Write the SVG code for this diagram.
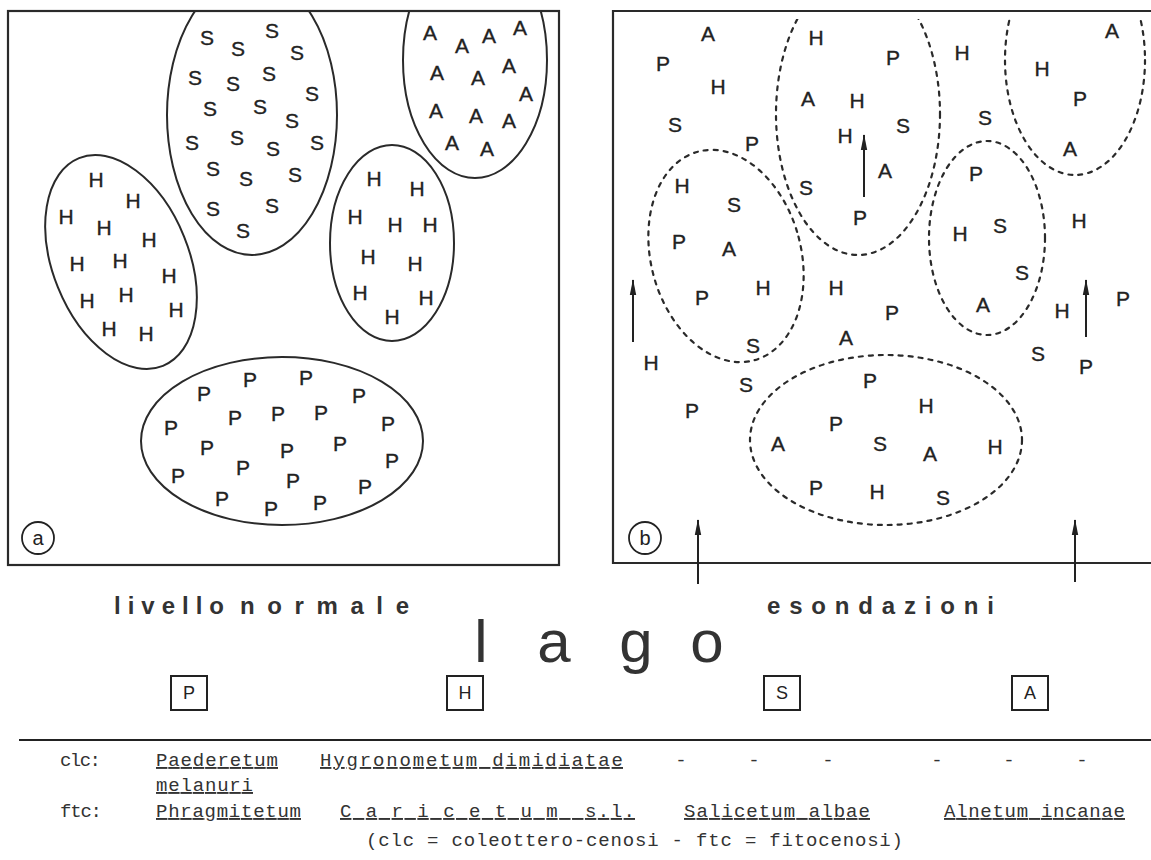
<svg xmlns="http://www.w3.org/2000/svg" width="1151" height="860" viewBox="0 0 1151 860">
<style>
.frame{fill:none;stroke:#2a2a2a;stroke-width:2.2}
.solid{fill:none;stroke:#2a2a2a;stroke-width:2}
.dash{fill:none;stroke:#2a2a2a;stroke-width:2.2;stroke-dasharray:4 6;stroke-linecap:round}
.L{font-family:"Liberation Sans",Arial,sans-serif;font-size:21px;fill:#222;stroke:#222;stroke-width:0.35;text-anchor:middle}
.arr{stroke:#222;stroke-width:2;fill:none;marker-end:url(#ah)}
.lbl{font-family:"Liberation Sans",Arial,sans-serif;font-size:24px;font-weight:bold;fill:#333}
.lago{font-family:"Liberation Sans",Arial,sans-serif;font-size:60px;fill:#333;text-anchor:middle}
.tw{font-family:"Liberation Mono","Courier New",monospace;font-size:19px;fill:#333}
.ul{text-decoration:underline}
.box{fill:none;stroke:#222;stroke-width:2}
.boxt{font-family:"Liberation Sans",Arial,sans-serif;font-size:18px;fill:#222;text-anchor:middle}
.circ{fill:none;stroke:#222;stroke-width:1.8}
.ct{font-family:"Liberation Sans",Arial,sans-serif;font-size:20px;fill:#222;text-anchor:middle}
</style>
<defs>
<marker id="ah" markerUnits="userSpaceOnUse" markerWidth="16" markerHeight="8" refX="15" refY="4" orient="auto" viewBox="0 0 16 8">
<path d="M0,0.8 L16,4 L0,7.2 z" fill="#222"/>
</marker>
<clipPath id="clipA"><rect x="8" y="11" width="551" height="554"/></clipPath>
<clipPath id="clipB"><rect x="613" y="19" width="538" height="544"/></clipPath>
</defs>
<rect width="1151" height="860" fill="#fff"/>

<g id="panel-a">
<rect class="frame" x="8" y="11" width="551" height="554"/>
<g id="a-S">
<ellipse class="solid" cx="252" cy="115" rx="85" ry="140" clip-path="url(#clipA)"/>
<text class="L" x="207" y="45">S</text><text class="L" x="238" y="56">S</text><text class="L" x="272" y="38">S</text><text class="L" x="297" y="60">S</text>
<text class="L" x="195" y="85">S</text><text class="L" x="233" y="91">S</text><text class="L" x="269" y="81">S</text><text class="L" x="312" y="101">S</text>
<text class="L" x="210" y="116">S</text><text class="L" x="260" y="114">S</text><text class="L" x="292" y="128">S</text>
<text class="L" x="192" y="150">S</text><text class="L" x="237" y="145">S</text><text class="L" x="273" y="156">S</text><text class="L" x="317" y="150">S</text>
<text class="L" x="213" y="176">S</text><text class="L" x="246" y="186">S</text><text class="L" x="295" y="182">S</text>
<text class="L" x="213" y="216">S</text><text class="L" x="272" y="213">S</text><text class="L" x="243" y="238">S</text>
</g>
<g id="a-A">
<ellipse class="solid" cx="475" cy="60" rx="72" ry="118" clip-path="url(#clipA)"/>
<text class="L" x="430" y="40">A</text><text class="L" x="462" y="53">A</text><text class="L" x="489" y="43">A</text><text class="L" x="520" y="35">A</text>
<text class="L" x="437" y="80">A</text><text class="L" x="478" y="85">A</text><text class="L" x="509" y="73">A</text><text class="L" x="526" y="101">A</text>
<text class="L" x="436" y="118">A</text><text class="L" x="476" y="123">A</text><text class="L" x="509" y="128">A</text>
<text class="L" x="452" y="150">A</text><text class="L" x="487" y="156">A</text>
</g>
<g id="a-H-right">
<ellipse class="solid" cx="392" cy="243" rx="62" ry="98"/>
<text class="L" x="374" y="186">H</text><text class="L" x="417" y="196">H</text>
<text class="L" x="355" y="224">H</text><text class="L" x="395" y="232">H</text><text class="L" x="430" y="232">H</text>
<text class="L" x="368" y="264">H</text><text class="L" x="415" y="271">H</text>
<text class="L" x="360" y="300">H</text><text class="L" x="426" y="305">H</text><text class="L" x="392" y="324">H</text>
</g>
<g id="a-H-left">
<ellipse class="solid" cx="121" cy="262" rx="68" ry="112" transform="rotate(-22 121 262)"/>
<text class="L" x="96" y="187">H</text><text class="L" x="133" y="208">H</text>
<text class="L" x="66" y="224">H</text><text class="L" x="104" y="235">H</text><text class="L" x="149" y="247">H</text>
<text class="L" x="77" y="271">H</text><text class="L" x="120" y="268">H</text><text class="L" x="169" y="283">H</text>
<text class="L" x="87" y="308">H</text><text class="L" x="126" y="302">H</text><text class="L" x="176" y="317">H</text>
<text class="L" x="109" y="336">H</text><text class="L" x="146" y="341">H</text>
</g>
<g id="a-P">
<ellipse class="solid" cx="282" cy="441" rx="141" ry="84"/>
<text class="L" x="204" y="401">P</text><text class="L" x="250" y="387">P</text><text class="L" x="306" y="385">P</text><text class="L" x="359" y="403">P</text>
<text class="L" x="171" y="435">P</text><text class="L" x="235" y="425">P</text><text class="L" x="278" y="421">P</text><text class="L" x="321" y="420">P</text><text class="L" x="388" y="431">P</text>
<text class="L" x="207" y="455">P</text><text class="L" x="287" y="458">P</text><text class="L" x="340" y="451">P</text><text class="L" x="392" y="468">P</text>
<text class="L" x="178" y="483">P</text><text class="L" x="243" y="475">P</text><text class="L" x="293" y="488">P</text><text class="L" x="365" y="494">P</text>
<text class="L" x="222" y="506">P</text><text class="L" x="271" y="516">P</text><text class="L" x="320" y="510">P</text>
</g>
<g id="label-a">
<circle class="circ" cx="38" cy="538" r="16"/>
<text class="ct" x="38" y="545">a</text>
</g>
</g>

<g id="panel-b">
<path class="frame" d="M1151,11 H613 V563 H1151"/>
<g id="b-free">
<text class="L" x="708" y="41">A</text><text class="L" x="663" y="71">P</text><text class="L" x="718" y="94">H</text><text class="L" x="675" y="132">S</text><text class="L" x="752" y="151">P</text>
<text class="L" x="962" y="60">H</text><text class="L" x="985" y="125">S</text><text class="L" x="1079" y="228">H</text>
<text class="L" x="651" y="370">H</text><text class="L" x="746" y="392">S</text><text class="L" x="692" y="418">P</text>
<text class="L" x="836" y="295">H</text><text class="L" x="846" y="345">A</text><text class="L" x="892" y="320">P</text>
<text class="L" x="1062" y="318">H</text><text class="L" x="1123" y="306">P</text><text class="L" x="1038" y="361">S</text><text class="L" x="1086" y="374">P</text>
</g>
<g id="b-top-center">
<ellipse class="dash" cx="858" cy="114" rx="82" ry="141" clip-path="url(#clipB)"/>
<text class="L" x="816" y="45">H</text><text class="L" x="893" y="65">P</text><text class="L" x="808" y="106">A</text><text class="L" x="857" y="108">H</text>
<text class="L" x="903" y="133">S</text><text class="L" x="845" y="143">H</text><text class="L" x="885" y="178">A</text><text class="L" x="806" y="195">S</text><text class="L" x="860" y="225">P</text>
</g>
<g id="b-top-right">
<ellipse class="dash" cx="1075" cy="60" rx="70" ry="115" clip-path="url(#clipB)"/>
<text class="L" x="1112" y="38">A</text><text class="L" x="1042" y="76">H</text><text class="L" x="1080" y="106">P</text><text class="L" x="1070" y="156">A</text>
</g>
<g id="b-right-mid">
<ellipse class="dash" cx="987" cy="238" rx="58" ry="97"/>
<text class="L" x="976" y="181">P</text><text class="L" x="960" y="241">H</text><text class="L" x="1000" y="233">S</text><text class="L" x="1022" y="280">S</text><text class="L" x="983" y="312">A</text>
</g>
<g id="b-left-mid">
<ellipse class="dash" cx="726" cy="256" rx="75" ry="108" transform="rotate(-15 726 256)"/>
<text class="L" x="682" y="193">H</text><text class="L" x="734" y="212">S</text><text class="L" x="679" y="249">P</text><text class="L" x="729" y="256">A</text>
<text class="L" x="702" y="305">P</text><text class="L" x="763" y="295">H</text><text class="L" x="753" y="353">S</text>
</g>
<g id="b-bottom">
<ellipse class="dash" cx="886" cy="440" rx="136" ry="85"/>
<text class="L" x="870" y="388">P</text><text class="L" x="926" y="413">H</text><text class="L" x="836" y="431">P</text><text class="L" x="778" y="451">A</text>
<text class="L" x="880" y="451">S</text><text class="L" x="930" y="461">A</text><text class="L" x="995" y="454">H</text>
<text class="L" x="816" y="495">P</text><text class="L" x="877" y="499">H</text><text class="L" x="943" y="505">S</text>
</g>
<g id="label-b">
<circle class="circ" cx="645" cy="538" r="16"/>
<text class="ct" x="645" y="545">b</text>
</g>
</g>

<g id="connectors">
<line class="arr" x1="864" y1="197" x2="864" y2="135"/>
<line class="arr" x1="633" y1="342" x2="633" y2="280"/>
<line class="arr" x1="1086" y1="337" x2="1086" y2="280"/>
<line class="arr" x1="698" y1="584" x2="698" y2="520"/>
<line class="arr" x1="1075" y1="582" x2="1075" y2="520"/>
</g>

<g id="titles">
<text class="lbl" x="114" y="614" textLength="110" lengthAdjust="spacing">livello</text>
<text class="lbl" x="240" y="614" textLength="169" lengthAdjust="spacing">normale</text>
<text class="lbl" x="767" y="614" textLength="227" lengthAdjust="spacing">esondazioni</text>
<text class="lago" x="481 554 636 707" y="662">lago</text>
</g>

<g id="legend-boxes">
<g id="box-P"><rect class="box" x="171" y="676" width="36" height="34"/><text class="boxt" x="189" y="699">P</text></g>
<g id="box-H"><rect class="box" x="447" y="676" width="36" height="34"/><text class="boxt" x="465" y="699">H</text></g>
<g id="box-S"><rect class="box" x="764" y="676" width="36" height="34"/><text class="boxt" x="782" y="699">S</text></g>
<g id="box-A"><rect class="box" x="1012" y="676" width="36" height="34"/><text class="boxt" x="1030" y="699">A</text></g>
</g>

<g id="legend-table">
<line x1="19" y1="740" x2="1151" y2="740" stroke="#222" stroke-width="2"/>
<text class="tw" x="60" y="766" textLength="41">clc:</text>
<text class="tw ul" x="156" y="766" textLength="122">Paederetum</text>
<text class="tw ul" x="156" y="791" textLength="97">melanuri</text>
<text class="tw ul" x="320" y="766" textLength="303">Hygronometum dimidiatae</text>
<text class="tw" x="681" y="766" text-anchor="middle">-</text>
<text class="tw" x="754" y="766" text-anchor="middle">-</text>
<text class="tw" x="828" y="766" text-anchor="middle">-</text>
<text class="tw" x="937" y="766" text-anchor="middle">-</text>
<text class="tw" x="1009" y="766" text-anchor="middle">-</text>
<text class="tw" x="1082" y="766" text-anchor="middle">-</text>
<text class="tw" x="60" y="817" textLength="42">ftc:</text>
<text class="tw ul" x="156" y="817" textLength="145">Phragmitetum</text>
<text class="tw ul" x="340" y="817" textLength="295" xml:space="preserve">C a r i c e t u m  s.l.</text>
<text class="tw ul" x="684" y="817" textLength="186">Salicetum albae</text>
<text class="tw ul" x="944" y="817" textLength="181">Alnetum incanae</text>
<text class="tw" x="366" y="846" textLength="537">(clc = coleottero-cenosi - ftc = fitocenosi)</text>
</g>
</svg>
